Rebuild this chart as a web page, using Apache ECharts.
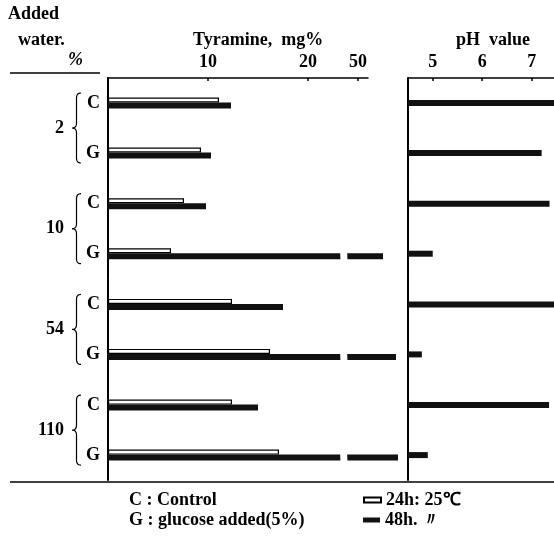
<!DOCTYPE html>
<html>
<head>
<meta charset="utf-8">
<script src="https://cdn.jsdelivr.net/npm/echarts@6/dist/echarts.min.js"></script>
<style>
html, body { margin: 0; padding: 0; background: #fff; }
#main { width: 554px; height: 536px; }
</style>
</head>
<body>
<div id="main"></div>
<script>
// added water, %
var groups = ['2', '10', '54', '110'];
var rows = ['C', 'G'];
// tyramine mg%, each group is [C, G]
var tyr24 = [[11.1, 9.3], [7.6, 6.3], [12.4, 16.2], [12.4, 17.1]];
var tyr48 = [[12.3, 10.3], [9.8, 52.5], [17.5, 53.8], [15.0, 54.0]];
// pH value, each group is [C, G]
var ph48 = [[7.5, 7.2], [7.36, 5.0], [7.5, 4.78], [7.35, 4.9]];
var tyrTicks = [10, 20, 50];
var phTicks = [5, 6, 7];
// broken tyramine axis: values above breakAt are drawn shifted down by breakShift
var breakAt = 23.2;
var breakShift = 25;
var name24 = '24h: 25℃';
var name48 = '48h. 〃';

var FONT = '"Liberation Serif", "Times New Roman", serif';

function txt() {
  return { fontFamily: FONT, fontSize: 18, fontWeight: 'bold', color: '#000' };
}
function toAxis(v) { return v > breakAt ? v - breakShift : v; }
function fromAxis(v) { return v > breakAt ? v + breakShift : v; }

var chart = echarts.init(document.getElementById('main'));

var grids = [], xAxes = [], yAxes = [], series = [];
for (var i = 0; i < groups.length; i++) {
  var gridTop = 78 + i * 100.7;
  grids.push({ left: 108, top: gridTop, width: 260, height: 100 });
  grids.push({ left: 408, top: gridTop, width: 146, height: 100 });
}
for (var i = 0; i < groups.length; i++) {
  var first = i === 0;
  var lab = txt();
  lab.show = first; lab.margin = 7; lab.customValues = tyrTicks.map(toAxis);
  lab.formatter = function (v) { return String(Math.round(fromAxis(v))); };
  xAxes[i] = {
    type: 'value', gridIndex: 2 * i, position: 'top', min: 0, max: 26,
    axisLine: { show: first, lineStyle: { color: '#000', width: 1.5 } },
    axisTick: { show: first, inside: true, length: 3, customValues: tyrTicks.map(toAxis), lineStyle: { color: '#000', width: 1.5 } },
    axisLabel: lab,
    splitLine: { show: false }
  };
  var labPh = txt();
  labPh.show = first; labPh.margin = 7; labPh.customValues = phTicks;
  xAxes[4 + i] = {
    type: 'value', gridIndex: 2 * i + 1, position: 'top', min: 4.5, max: 7.45,
    axisLine: { show: first, lineStyle: { color: '#000', width: 1.5 } },
    axisTick: { show: first, inside: true, length: 3, customValues: phTicks, lineStyle: { color: '#000', width: 1.5 } },
    axisLabel: labPh,
    splitLine: { show: false }
  };
  var labY = txt(); labY.margin = 8;
  yAxes[i] = {
    type: 'category', gridIndex: 2 * i, data: rows, inverse: true,
    name: groups[i], nameLocation: 'middle', nameRotate: 0, nameGap: 44,
    nameTextStyle: txt(),
    axisLine: { show: true, lineStyle: { color: '#000', width: 2 } },
    axisTick: { show: false },
    axisLabel: labY
  };
  yAxes[4 + i] = {
    type: 'category', gridIndex: 2 * i + 1, data: rows, inverse: true,
    axisLine: { show: true, lineStyle: { color: '#000', width: 2 } },
    axisTick: { show: false },
    axisLabel: { show: false }
  };
  series.push({
    name: name24, type: 'bar', xAxisIndex: i, yAxisIndex: i, data: tyr24[i].map(toAxis),
    barWidth: 5, barGap: '0%', clip: false, silent: true,
    itemStyle: { color: '#fff', borderColor: '#000', borderWidth: 1.2 }
  });
  series.push({
    name: name48, type: 'bar', xAxisIndex: i, yAxisIndex: i, data: tyr48[i].map(toAxis),
    barWidth: 6, barGap: '0%', clip: false, silent: true,
    itemStyle: { color: '#111' }
  });
  series.push({
    name: name48, type: 'bar', xAxisIndex: 4 + i, yAxisIndex: 4 + i, data: ph48[i],
    barWidth: 6, silent: true,
    itemStyle: { color: '#111' }
  });
}

function legendRow(name, y) {
  return {
    left: 358, top: y, itemWidth: 17, itemHeight: 5, itemGap: 2,
    icon: 'rect', data: [name], selectedMode: false, textStyle: txt()
  };
}

chart.setOption({
  animation: false,
  backgroundColor: '#fff',
  grid: grids,
  xAxis: xAxes,
  yAxis: yAxes,
  series: series,
  legend: [legendRow(name24, 486), legendRow(name48, 506)]
});

// quadratic curve sampled into points
function quad(p0, c, p1, pts) {
  for (var t = 0; t <= 1.0001; t += 0.125) {
    var a = (1 - t) * (1 - t), b = 2 * (1 - t) * t, d = t * t;
    pts.push([a * p0[0] + b * c[0] + d * p1[0], a * p0[1] + b * c[1] + d * p1[1]]);
  }
}
function bracePoints(x0, x1, yt, yb) {
  var xm = (x0 + x1) / 2, ym = (yt + yb) / 2, r = 5, pts = [];
  quad([x1, yt], [xm, yt], [xm, yt + r], pts);
  quad([xm, ym - r], [xm, ym], [x0, ym], pts);
  quad([x0, ym], [xm, ym], [xm, ym + r], pts);
  quad([xm, yb - r], [xm, yb], [x1, yb], pts);
  return pts;
}

function textEl(text, x, y, font) {
  return {
    type: 'text', x: x, y: y, silent: true,
    style: { text: text, fill: '#000', font: font || ('bold 18px ' + FONT), align: 'left', verticalAlign: 'middle' }
  };
}

var graphics = [
  textEl('Added', 8, 14),
  textEl('water.', 18, 40),
  textEl('%', 68, 60, 'italic bold 18px ' + FONT),
  textEl('Tyramine,  mg%', 193, 40),
  textEl('pH  value', 456, 40),
  textEl('C : Control', 129, 500),
  textEl('G : glucose added(5%)', 129, 520),
  { type: 'line', silent: true, shape: { x1: 10, y1: 73, x2: 100, y2: 73 }, style: { stroke: '#000', lineWidth: 1.5 } },
  { type: 'line', silent: true, shape: { x1: 10, y1: 482, x2: 554, y2: 482 }, style: { stroke: '#000', lineWidth: 1.5 } }
];
for (var i = 0; i < groups.length; i++) {
  var yC = chart.convertToPixel({ yAxisIndex: i }, 'C');
  var yG = chart.convertToPixel({ yAxisIndex: i }, 'G');
  graphics.push({
    type: 'polyline', silent: true,
    shape: { points: bracePoints(72, 81, yC - 10, yG + 10) },
    style: { stroke: '#000', lineWidth: 1.2, fill: null }
  });
  // gap where the bars cross the axis break
  var xb = chart.convertToPixel({ xAxisIndex: i }, breakAt);
  var yTop = i === 0 ? yC - 20 : yC - 30;
  graphics.push({
    type: 'polygon', silent: true, z: 100,
    shape: { points: [[xb - 3, yTop], [xb + 4, yTop], [xb + 8, yG + 20], [xb + 1, yG + 20]] },
    style: { fill: '#fff' }
  });
}
chart.setOption({ graphic: graphics });
</script>
</body>
</html>
